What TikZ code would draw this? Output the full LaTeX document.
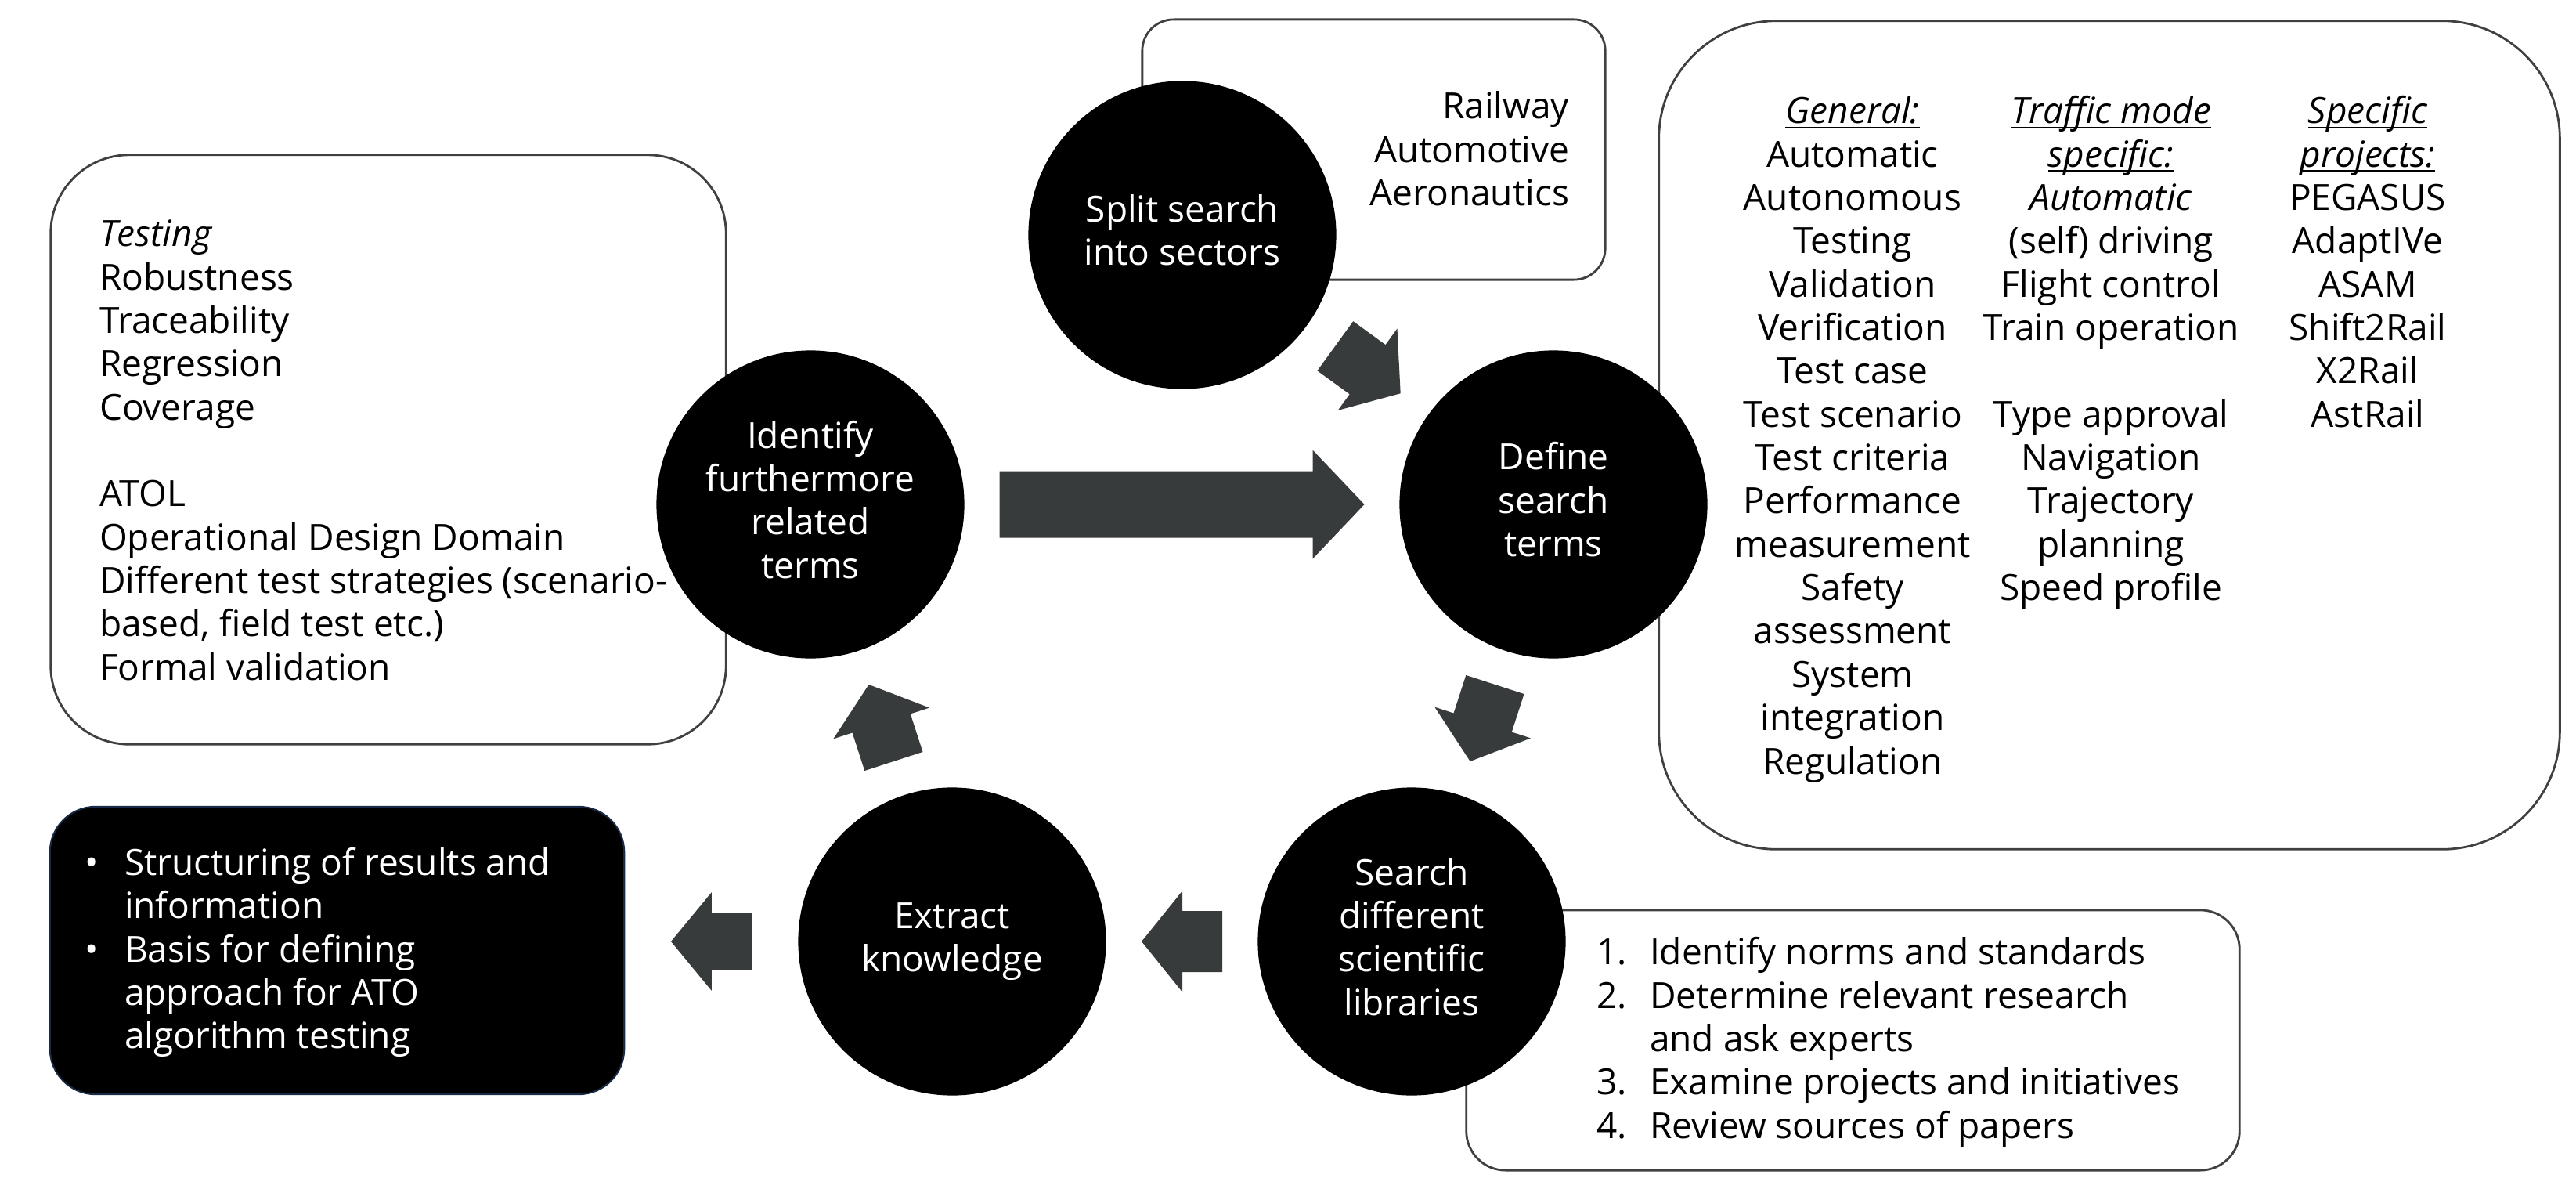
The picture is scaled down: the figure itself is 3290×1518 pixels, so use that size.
\documentclass[tikz,border=0pt]{standalone}
\usepackage{fontspec}
\setmainfont{Open Sans}
\usetikzlibrary{calc}
\definecolor{boxgray}{RGB}{64,64,64}
\definecolor{arrowfill}{RGB}{56,59,60}
\definecolor{navyedge}{RGB}{25,42,70}
\newcommand\diafont{\fontsize{13.09pt}{15.74pt}\selectfont}
\newcommand\ulin[1]{\setbox0\hbox{#1}\rlap{\rule[-0.14em]{\wd0}{0.05em}}\box0}
\newlength\numw \setlength\numw{0.68cm}
\newlength\bulw \setlength\bulw{0.51cm}
% block arrow between two named points: #1 from, #2 to, #3 length, #4 body half, #5 head half, #6 head length, #7 name
\newcommand\blockarrow[7]{%
  \coordinate (#7) at ($(#1)!0.5!(#2)$);
  \pgfmathanglebetweenpoints{\pgfpointanchor{#1}{center}}{\pgfpointanchor{#2}{center}}%
  \global\let\bangle\pgfmathresult
  \fill[arrowfill, shift={(#7)}, rotate=\bangle]
    (-#3/2,-#4) -- (#3/2-#6,-#4) -- (#3/2-#6,-#5) -- (#3/2,0)
    -- (#3/2-#6,#5) -- (#3/2-#6,#4) -- (-#3/2,#4) -- cycle;}
\begin{document}
\begin{tikzpicture}[x=0.01cm,y=-0.01cm,
  txt/.style={font=\diafont, inner sep=0pt, outer sep=0pt},
  boxst/.style={rectangle, draw=boxgray, line width=0.8pt, fill=white, inner sep=0pt},
  stepcirc/.style={circle, fill=black, draw=none, minimum size=3.93cm, inner sep=0pt,
    text=white, align=center, font=\diafont}]
\fill[white] (0,0) rectangle (3290,1518);
\useasboundingbox (0,0) rectangle (3290,1518);

% boxes
\node[boxst, rounded corners=1cm, minimum width=8.62cm, minimum height=7.52cm] (testbox) at (496,574) {};
\node[boxst, rounded corners=0.4cm, minimum width=5.91cm, minimum height=3.32cm] (sectorbox) at (1754.5,191) {};
\node[boxst, rounded corners=1.5cm, minimum width=11.5cm, minimum height=10.57cm] (termbox) at (2694,555.5) {};
\node[boxst, rounded corners=0.5cm, minimum width=9.87cm, minimum height=3.32cm] (listbox) at (2366.5,1328) {};
\node[rectangle, draw=navyedge, line width=0.6pt, fill=black, rounded corners=0.58cm, inner sep=0pt,
  minimum width=7.33cm, minimum height=3.67cm] (result) at (430.5,1213.5) {};

% box texts
\node[txt, anchor=north east, align=right] (railtxt) at (2004,113)
  {\strut Railway\\Automotive\\Aeronautics};
\node[txt, anchor=north west, align=left] (testtxt) at (127,276)
  {\strut\textit{Testing}\\Robustness\\Traceability\\Regression\\Coverage\\\strut\\ATOL\\Operational Design Domain\\Different test strategies (scenario-\\based, field test etc.)\\Formal validation};
\node[txt, anchor=north, align=center] (gentxt) at (2366,119)
  {\strut\ulin{\textit{General:}}\\Automatic\\Autonomous\\Testing\\Validation\\Verification\\Test case\\Test scenario\\Test criteria\\Performance\\measurement\\Safety\\assessment\\System\\integration\\Regulation};
\node[txt, anchor=north, align=center] (traftxt) at (2696,119)
  {\strut\ulin{\textit{Traffic mode}}\\\ulin{\textit{specific:}}\\\textit{Automatic}\\(self) driving\\Flight control\\Train operation\\\strut\\Type approval\\Navigation\\Trajectory\\planning\\Speed profile};
\node[txt, anchor=north, align=center] (spectxt) at (3024,119)
  {\strut\ulin{\textit{Specific}}\\\ulin{\textit{projects:}}\\PEGASUS\\AdaptIVe\\ASAM\\Shift2Rail\\X2Rail\\AstRail};
\node[txt, anchor=north west, align=left] (listtxt) at (2039,1193)
  {\strut\makebox[\numw][l]{1.}Identify norms and standards\\
   \makebox[\numw][l]{2.}Determine relevant research\\
   \hspace*{\numw}and ask experts\\
   \makebox[\numw][l]{3.}Examine projects and initiatives\\
   \makebox[\numw][l]{4.}Review sources of papers};
\node[txt, anchor=north west, align=left, text=white] (restxt) at (108,1078.6)
  {\strut\makebox[\bulw][l]{\textbullet}Structuring of results and\\
   \hspace*{\bulw}information\\
   \makebox[\bulw][l]{\textbullet}Basis for defining\\
   \hspace*{\bulw}approach for ATO\\
   \hspace*{\bulw}algorithm testing};

% circles
\node[stepcirc] (split) at (1510,300) {\strut Split search\\into sectors\strut};
\node[stepcirc] (identify) at (1035,644) {\strut Identify\\furthermore\\related\\terms\strut};
\node[stepcirc] (define) at (1984,644) {\strut Define\\search\\terms\strut};
\node[stepcirc] (search) at (1803,1202) {\strut Search\\different\\scientific\\libraries\strut};
\node[stepcirc] (extract) at (1216,1202) {\strut Extract\\knowledge\strut};

% block arrows
\blockarrow{identify}{define}{466}{42.5}{69.5}{66}{arrA}
\blockarrow{split}{define}{103}{39}{64.5}{52}{arrB}
\blockarrow{define}{search}{103}{39}{64.5}{52}{arrC}
\blockarrow{search}{extract}{103}{39}{64.5}{52}{arrD}
\blockarrow{extract}{identify}{103}{39}{64.5}{52}{arrE}
\coordinate (a5s) at (extract.west);
\coordinate (a5e) at (extract.west -| result.east);
\blockarrow{a5s}{a5e}{103}{36}{63}{52}{arrF}
\end{tikzpicture}
\end{document}
